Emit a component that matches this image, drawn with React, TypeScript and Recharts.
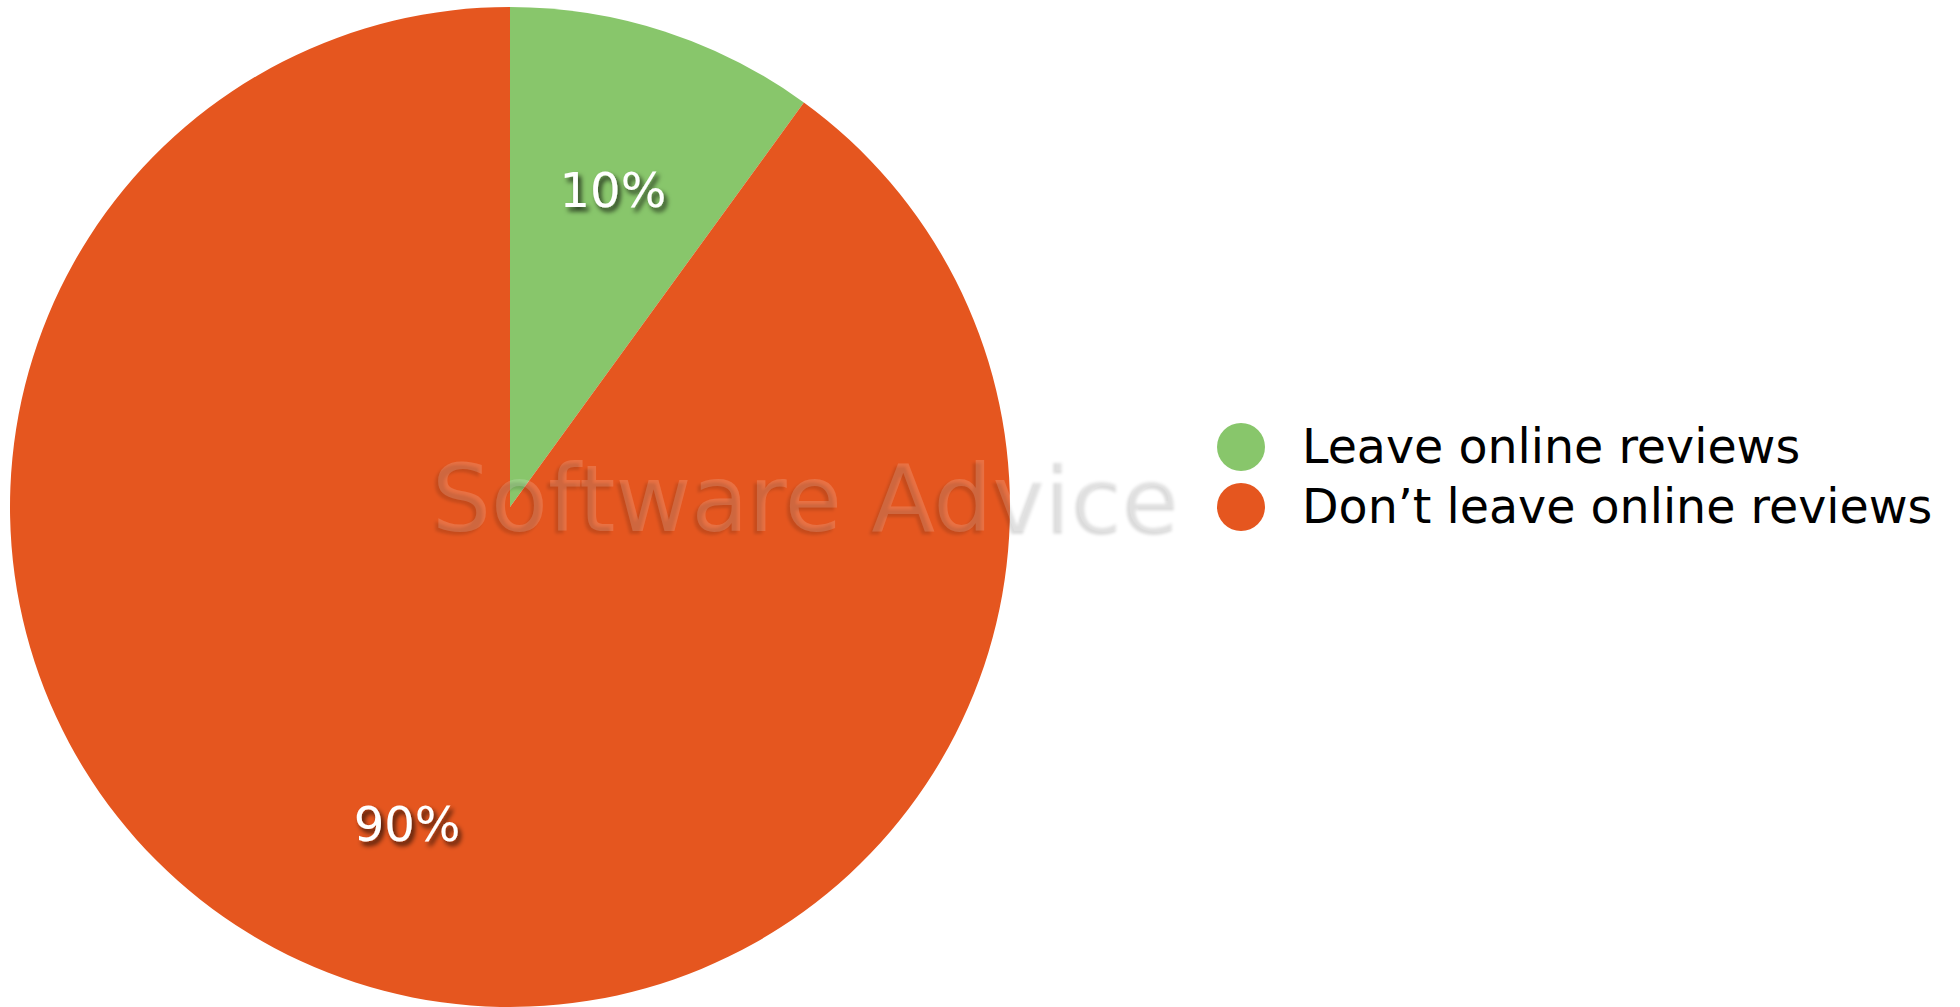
import React from "react";
import { PieChart, Pie, Cell, Legend } from "recharts";

// Shares of respondents
const categories = ["Leave online reviews", "Don\u2019t leave online reviews"];
const shares = [10, 90];
const colors = ["#88C66B", "#E5561F"];

const data = categories.map((name, i) => ({ name, value: shares[i] }));

const RAD = Math.PI / 180;
const FONT = "'DejaVu Sans', Verdana, sans-serif";

const renderLabel = (props: any) => {
  const { cx, cy, midAngle, outerRadius, percent } = props;
  const r = outerRadius * 0.666;
  const x = cx + r * Math.cos(-midAngle * RAD);
  const y = cy + r * Math.sin(-midAngle * RAD);
  return (
    <text
      x={x}
      y={y}
      fill="#ffffff"
      textAnchor="middle"
      dominantBaseline="central"
      fontFamily={FONT}
      fontSize={48}
      filter="url(#labelShadow)"
    >
      {`${Math.round(percent * 100)}%`}
    </text>
  );
};

const renderLegend = () => (
  <div style={{ fontFamily: FONT, fontSize: 47.5, color: "#000" }}>
    {categories.map((name, i) => (
      <div
        key={name}
        style={{ display: "flex", alignItems: "center", height: 60, lineHeight: "60px" }}
      >
        <div
          style={{
            flex: "0 0 48px",
            width: 48,
            height: 48,
            borderRadius: "50%",
            background: colors[i],
            marginRight: 37,
          }}
        />
        <span style={{ whiteSpace: "nowrap" }}>{name}</span>
      </div>
    ))}
  </div>
);

export default function App() {
  return (
    <div style={{ position: "absolute", left: 0, top: 0, width: 1960, height: 1007, background: "#fff" }}>
      <PieChart width={1960} height={1007} margin={{ top: 0, right: 0, bottom: 0, left: 0 }}>
        <defs>
          <filter id="labelShadow" x="-20%" y="-20%" width="140%" height="160%">
            <feDropShadow dx="3" dy="4" stdDeviation="2.5" floodColor="#000" floodOpacity="0.75" />
          </filter>
        </defs>
        <Pie
          data={data}
          dataKey="value"
          nameKey="name"
          cx={510}
          cy={507}
          outerRadius={500}
          startAngle={90}
          endAngle={-270}
          stroke="none"
          label={renderLabel}
          labelLine={false}
          isAnimationActive={false}
        >
          {data.map((d, i) => (
            <Cell key={d.name} fill={colors[i]} />
          ))}
        </Pie>
        <Legend
          content={renderLegend}
          layout="vertical"
          verticalAlign="top"
          align="right"
          wrapperStyle={{ left: 1217, top: 417, right: "auto", width: 720 }}
        />
      </PieChart>
      {/* watermark drawn over the pie */}
      <svg
        width={1960}
        height={1007}
        style={{ position: "absolute", left: 0, top: 0, pointerEvents: "none" }}
      >
        <defs>
          <filter id="markBlur" x="-5%" y="-30%" width="110%" height="160%">
            <feGaussianBlur stdDeviation="1.8" />
          </filter>
        </defs>
        <text
          x={429}
          y={534}
          fontFamily={FONT}
          fontSize={93}
          fill="#000000"
          fillOpacity={0.14}
          filter="url(#markBlur)"
        >
          Software Advice
        </text>
        <text
          x={432}
          y={531}
          fontFamily={FONT}
          fontSize={93}
          fill="#ffffff"
          fillOpacity={0.16}
        >
          Software Advice
        </text>
      </svg>
    </div>
  );
}
